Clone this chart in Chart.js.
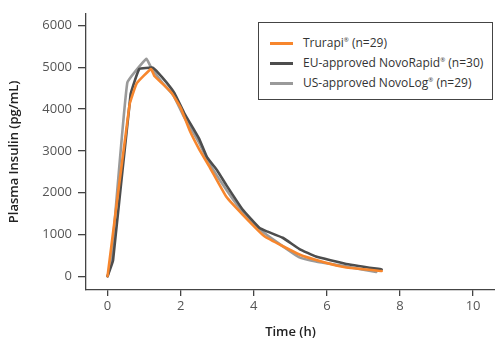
<!DOCTYPE html>
<html>
<head>
<meta charset="utf-8">
<script src="https://cdn.jsdelivr.net/npm/chart.js@4/dist/chart.umd.min.js"></script>
<style>
  html, body { margin: 0; padding: 0; background: #ffffff; }
  #wrap { position: relative; width: 495px; height: 340px; }
  #legend { position: absolute; left: 258px; top: 22px; width: 235px; height: 78px;
    border: 1.3px solid #444; box-sizing: border-box; background: #fff;
    font-family: "Open Sans", sans-serif; font-size: 12px; color: #333; }
  .item { position: absolute; left: 0; height: 16px; line-height: 16px; white-space: nowrap; }
  .swatch { position: absolute; left: 11px; top: 7px; width: 23px; height: 2.5px; }
  .lbl { position: absolute; left: 44px; top: 0; }
  sup { font-size: 6px; vertical-align: 5px; line-height: 0; }
</style>
</head>
<body>
<div id="wrap">
  <canvas id="c" width="495" height="340"></canvas>
  <div id="legend"></div>
</div>
<script>
// ---- data ----
const seriesNames = ["Trurapi", "EU-approved NovoRapid", "US-approved NovoLog"];
const seriesN = ["(n=29)", "(n=30)", "(n=29)"];
const seriesColors = ["#f7862d", "#4d4d4d", "#9a9a9a"];

const trurapiTime = [0, 0.6, 0.8, 1.19, 1.28, 1.5, 1.75, 2.0, 2.25, 2.5, 2.8, 3.25, 3.7, 4.3, 5.25, 5.9, 6.5, 7.5];
const trurapiInsulin = [0, 4100, 4620, 4960, 4790, 4610, 4390, 4030, 3480, 3050, 2600, 1900, 1470, 950, 520, 340, 215, 125];

const novoRapidTime = [0, 0.15, 0.63, 0.87, 1.24, 1.33, 1.6, 1.83, 2.1, 2.5, 2.72, 3.0, 3.25, 3.7, 4.15, 4.34, 4.79, 5.25, 5.7, 6.5, 7.5];
const novoRapidInsulin = [0, 380, 4350, 4960, 4990, 4920, 4650, 4380, 3900, 3300, 2850, 2530, 2180, 1590, 1160, 1080, 920, 650, 470, 300, 160];

const novoLogTime = [0, 0.1, 0.54, 1.06, 1.19, 1.5, 1.8, 2.1, 2.5, 2.75, 3.25, 3.7, 4.2, 4.4, 5.25, 5.7, 6.5, 7.35];
const novoLogInsulin = [0, 350, 4630, 5200, 5000, 4630, 4330, 3800, 3200, 2750, 2070, 1530, 1100, 960, 450, 350, 235, 100];

const xTicks = [0, 2, 4, 6, 8, 10];
const yTicks = [0, 1000, 2000, 3000, 4000, 5000, 6000];
const xTitle = "Time (h)";
const yTitle = "Plasma Insulin (pg/mL)";

const toPts = (xs, ys) => xs.map((x, i) => ({ x: x, y: ys[i] }));
const seriesData = [
  toPts(trurapiTime, trurapiInsulin),
  toPts(novoRapidTime, novoRapidInsulin),
  toPts(novoLogTime, novoLogInsulin)
];

const font = "'Open Sans', sans-serif";
const axisColor = "#444";

new Chart(document.getElementById("c"), {
  type: "line",
  data: {
    datasets: seriesData.map((d, i) => ({
      label: seriesNames[i] + "® " + seriesN[i],
      data: d,
      borderColor: seriesColors[i],
      backgroundColor: seriesColors[i],
      borderWidth: 2.6,
      pointRadius: 0,
      tension: 0.1,
      borderJoinStyle: "round",
      borderCapStyle: "round",
      fill: false
    }))
  },
  options: {
    responsive: false,
    animation: false,
    events: [],
    layout: { padding: { top: 9, left: 0, right: 0, bottom: 0 } },
    plugins: { legend: { display: false }, tooltip: { enabled: false } },
    scales: {
      x: {
        type: "linear",
        min: -0.59, max: 10.6,
        afterBuildTicks: s => { s.ticks = xTicks.map(v => ({ value: v })); },
        afterFit: s => { s.height = 50; },
        grid: { display: true, drawOnChartArea: false, drawTicks: true, tickLength: 6, color: axisColor, lineWidth: 1.3 },
        border: { display: true, color: axisColor, width: 1.3 },
        ticks: { color: "#555", font: { family: font, size: 13 }, padding: 2, maxRotation: 0, callback: v => String(v) },
        title: { display: true, text: xTitle, color: "#222", font: { family: font, size: 13, weight: "600" }, padding: { top: 0, bottom: 0 } }
      },
      y: {
        type: "linear",
        min: -330, max: 6280,
        afterBuildTicks: s => { s.ticks = yTicks.map(v => ({ value: v })); },
        afterFit: s => { s.width = 86; },
        grid: { display: true, drawOnChartArea: false, drawTicks: true, tickLength: 8, color: axisColor, lineWidth: 1.3 },
        border: { display: true, color: axisColor, width: 1.3 },
        ticks: { color: "#555", font: { family: font, size: 13 }, padding: 6, callback: v => String(v) },
        title: { display: true, text: yTitle, color: "#222", font: { family: font, size: 13, weight: "600" }, padding: { top: 6, bottom: 0 } }
      }
    }
  }
});

// HTML legend built from the series arrays
const legend = document.getElementById("legend");
const tops = [12, 32, 52];
seriesNames.forEach((name, i) => {
  const it = document.createElement("div");
  it.className = "item";
  it.style.top = tops[i] + "px";
  const sw = document.createElement("div");
  sw.className = "swatch";
  sw.style.background = seriesColors[i];
  const lb = document.createElement("div");
  lb.className = "lbl";
  lb.innerHTML = name + "<sup>®</sup> " + seriesN[i];
  it.appendChild(sw); it.appendChild(lb);
  legend.appendChild(it);
});
</script>
</body>
</html>
